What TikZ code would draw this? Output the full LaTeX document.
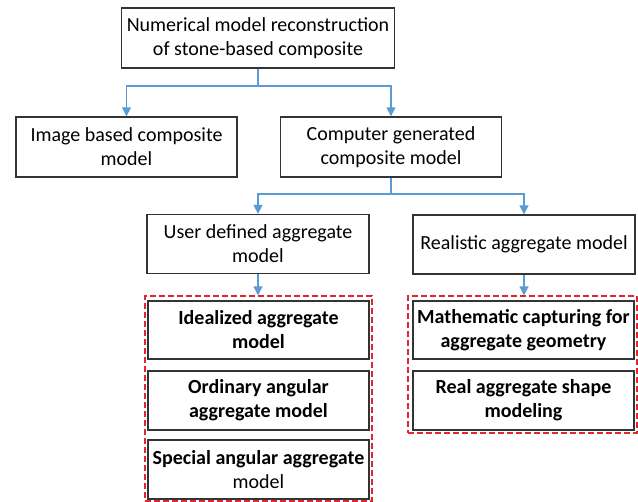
\documentclass[tikz,border=0pt]{standalone}
\usepackage{fontspec}
\setmainfont{Carlito}
\usetikzlibrary{arrows.meta}
\definecolor{boxline}{HTML}{333333}
\definecolor{arrblue}{HTML}{5B9BD5}
\definecolor{dashred}{HTML}{E0262E}
\tikzset{
  box/.style={draw=boxline, line width=1.3bp, minimum width=#1, minimum height=59bp, align=center,
    inner sep=0pt, font=\fontsize{20bp}{24bp}\selectfont},
  box/.default={221bp},
  arr/.style={draw=arrblue, line width=1.3bp, -{Triangle[length=9bp,width=9bp]}},
  conn/.style={draw=arrblue, line width=1.3bp},
  dbox/.style={draw=dashred, line width=1.1bp, dash pattern=on 6bp off 3bp, inner sep=0pt},
}
\begin{document}
\begin{tikzpicture}[x=1bp,y=-1bp]
\useasboundingbox (0,0) rectangle (638,502);
\node[box=273bp, minimum height=60bp] (top) at (258,38) {Numerical model reconstruction\\of stone-based composite};
\node[box, minimum height=60bp] (img) at (126.5,147) {Image based composite\\model};
\node[box, minimum height=60bp] (comp) at (391,147) {Computer generated\\composite model};
\node[box=222bp] (user) at (258,244) {User defined aggregate\\model};
\node[box=222bp] (real) at (524,244.5) {Realistic aggregate model};

\node[dbox, minimum width=227bp, minimum height=205bp] (dl) at (258.5,398.5) {};
\node[dbox, minimum width=229bp, minimum height=137bp] (dr) at (522.5,364.5) {};

\node[box, minimum height=58bp] (ideal) at (258.5,330) {\bfseries Idealized aggregate\\\bfseries model};
\node[box] (ord) at (258.5,400.5) {\bfseries Ordinary angular\\\bfseries aggregate model};
\node[box] (spec) at (258.5,469.5) {\bfseries Special angular aggregate\\model};
\node[box, minimum height=58bp] (math) at (523.5,330) {\bfseries Mathematic capturing for\\\bfseries aggregate geometry};
\node[box] (rsm) at (523.5,400.5) {\bfseries Real aggregate shape\\\bfseries modeling};

\coordinate (s1) at (258,86);
\coordinate (s2) at (391,194);
\draw[conn] (top.south) -- (s1);
\draw[arr] (s1) -| (img.north);
\draw[arr] (s1) -| (comp.north);
\draw[conn] (comp.south) -- (s2);
\draw[arr] (s2) -| (user.north);
\draw[arr] (s2) -| (real.north);
\draw[arr] (user.south) -- (user.south |- dl.north);
\draw[arr] (real.south) -- (real.south |- dr.north);
\end{tikzpicture}
\end{document}
